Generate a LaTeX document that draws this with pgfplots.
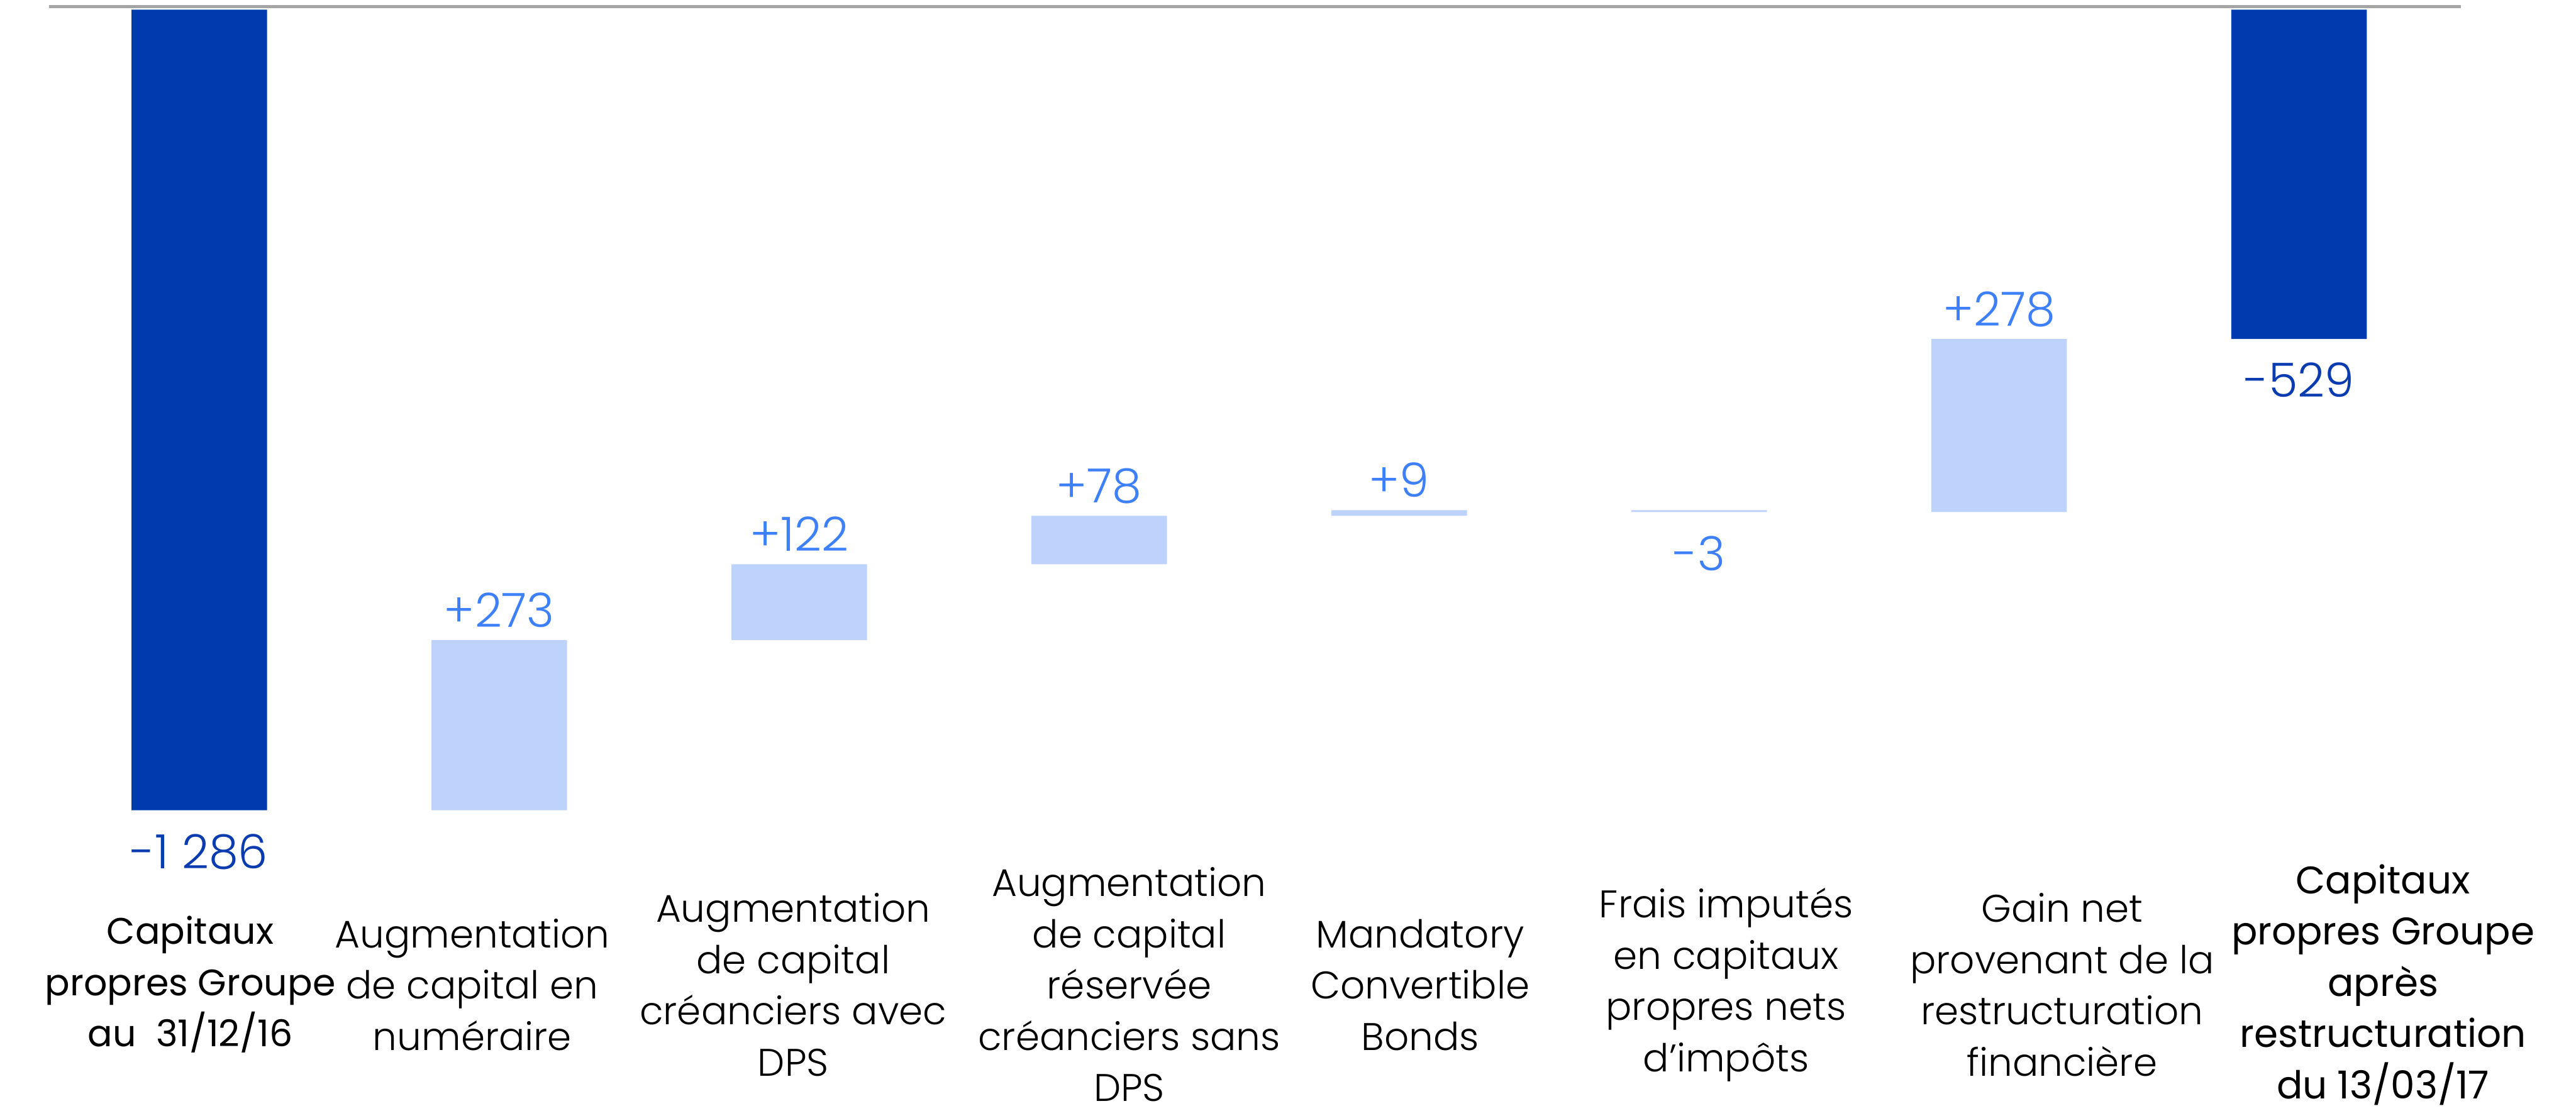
\documentclass[border=0pt]{standalone}
\usepackage{fontspec}
\usepackage{pgfplots}
\pgfplotsset{compat=1.18}
\IfFontExistsTF{Poppins Light}{\newfontfamily\catfont{Poppins Light}}{\newfontfamily\catfont{Poppins}}
\newfontfamily\catbold{Poppins}
\IfFontExistsTF{Poppins Light}{\newfontfamily\numfont{Poppins Light}}{\newfontfamily\numfont{Poppins}}
\definecolor{darkbar}{RGB}{0,58,174}
\definecolor{lightbar}{RGB}{189,211,252}
\definecolor{lightlab}{RGB}{62,128,250}
\definecolor{darklab}{RGB}{10,60,176}
\definecolor{topline}{RGB}{165,165,165}
\tikzset{lab/.style={font=\numfont\fontsize{8.7}{10}\selectfont, inner sep=0pt}}
\newcommand\smallbold{\catbold\fontsize{6.8}{9.45}\selectfont}
\pgfplotstableread{
x base light dark
0 0 0 -1286
1 -1013 -273 0
2 -891 -122 0
3 -813 -78 0
4 -804 -9 0
5 -804 -3 0
6 -529 -278 0
7 0 0 -529
}\wf
\begin{document}
\begin{tikzpicture}
\begin{axis}[
  name=ax,
  scale only axis,
  width=444.7pt, height=181.5pt,
  xmin=-0.5, xmax=7.54,
  ymin=-1576, ymax=5,
  ybar stacked, bar width=25pt,
  axis line style={draw=none},
  major tick length=0pt,
  ytick=\empty,
  xtick={-0.03,0.91,1.98,3.10,4.07,5.09,6.21,7.28},
  xticklabels={
    {\smallbold Capitaux\\\smallbold propres Groupe\\\smallbold au\ \ 31/12/16},
    {Augmentation\\de capital en\\numéraire},
    {Augmentation\\de capital\\créanciers avec\\DPS},
    {Augmentation\\de capital\\réservée\\créanciers sans\\DPS},
    {Mandatory\\Convertible\\Bonds},
    {Frais imputés\\en capitaux\\propres nets\\d’impôts},
    {Gain net\\provenant de la\\restructuration\\financière},
    {\catbold Capitaux\\\catbold propres Groupe\\\catbold après\\\catbold restructuration\\\catbold du 13/03/17}},
  xticklabel style={anchor=center, align=center, inner sep=0pt, yshift=1.1pt,
    font=\catfont\fontsize{7.1}{9.45}\selectfont, text=black},
  clip=false,
]
\addplot[draw=none, fill=none] table[x=x, y=base] {\wf};
\addplot[draw=none, fill=lightbar] table[x=x, y=light] {\wf};
\addplot[draw=none, fill=darkbar] table[x=x, y=dark] {\wf};
\draw[topline, line width=0.6pt] (rel axis cs:0,1) -- (rel axis cs:1,1);
\node[lab, text=darklab, anchor=north, yshift=-4.2pt] at (axis cs:0,-1286) {-1 286};
\node[lab, text=lightlab, anchor=base, yshift=2.4pt] at (axis cs:1,-1013) {+273};
\node[lab, text=lightlab, anchor=base, yshift=2.4pt] at (axis cs:2,-891) {+122};
\node[lab, text=lightlab, anchor=base, yshift=2.4pt] at (axis cs:3,-813) {+78};
\node[lab, text=lightlab, anchor=base, yshift=2.4pt] at (axis cs:4,-804) {+9};
\node[lab, text=lightlab, anchor=north, yshift=-4.2pt] at (axis cs:5,-807) {-3};
\node[lab, text=lightlab, anchor=base, yshift=2.4pt] at (axis cs:6,-529) {+278};
\node[lab, text=darklab, anchor=north, yshift=-4.2pt] at (axis cs:7,-529) {-529};
\end{axis}
\pgfresetboundingbox
\path ([xshift=-9.09pt,yshift=-22.1pt]ax.south west) rectangle ([xshift=21.2pt,yshift=1.21pt]ax.north east);
\end{tikzpicture}
\end{document}
